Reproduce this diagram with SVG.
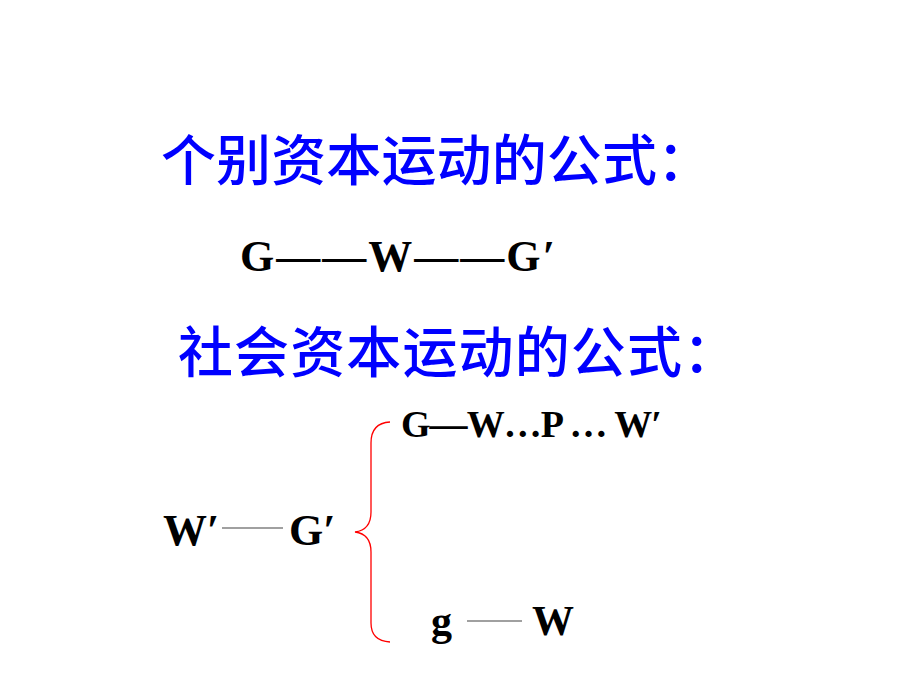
<svg xmlns="http://www.w3.org/2000/svg" width="920" height="690" viewBox="0 0 920 690">
<style>
.cn{font-family:"Noto Sans CJK SC","Noto Sans",sans-serif;font-weight:500;font-size:55px;fill:#0000ff}
.f{font-family:"Liberation Serif","Times New Roman",serif;font-weight:bold;fill:#000}
.thin{stroke:#808080;stroke-width:1.5;fill:none}
.brace{stroke:#ff0000;stroke-width:1.3;fill:none}
</style>
<rect width="920" height="690" fill="#fff"/>
<g id="title1"><text class="cn" x="161" y="180" textLength="551" lengthAdjust="spacing">个别资本运动的公式：</text></g>
<g id="formula1"><text class="f" x="240" y="271" font-size="44" textLength="315" lengthAdjust="spacing">G——W——G′</text></g>
<g id="title2"><text class="cn" x="178" y="372" textLength="560" lengthAdjust="spacing">社会资本运动的公式：</text></g>
<g id="left"><text class="f" x="163" y="545" font-size="44">W′</text><text class="f" x="289" y="545" font-size="44">G′</text></g>
<g id="top"><text class="f" x="401" y="437" font-size="38" textLength="261" lengthAdjust="spacing">G—W…P … W′</text></g>
<g id="bottom"><text class="f" x="431" y="635" font-size="42">g</text><text class="f" x="532" y="635" font-size="42">W</text></g>
<g id="connectors">
<line class="thin" x1="222" y1="528" x2="283" y2="528"/>
<line class="thin" x1="467" y1="621" x2="522" y2="621"/>
<path class="brace" d="M390,422 Q371,423 371,443 L371,512 Q371,530 355,532 Q371,534 371,552 L371,623 Q371,641 390,642"/>
</g>
</svg>
